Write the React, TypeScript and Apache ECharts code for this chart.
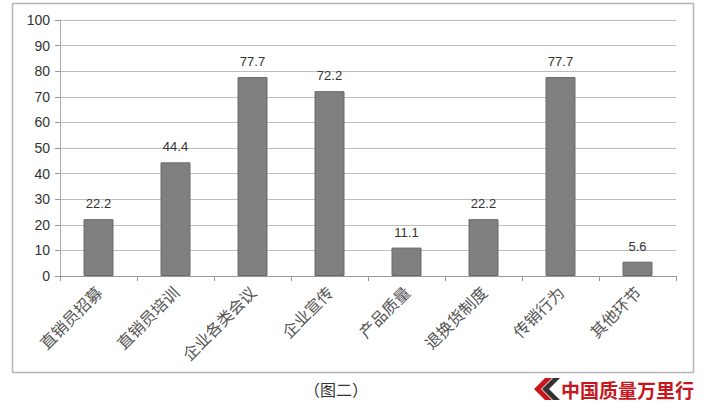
import React, { useEffect, useRef } from "react";
import * as echarts from "echarts";

const categories = ["直销员招募", "直销员培训", "企业各类会议", "企业宣传", "产品质量", "退换货制度", "传销行为", "其他环节"];
const values = [22.2, 44.4, 77.7, 72.2, 11.1, 22.2, 77.7, 5.6];
const caption = "（图二）";
const brand = "中国质量万里行";

export default function App() {
  const ref = useRef<HTMLDivElement>(null);
  useEffect(() => {
    const chart = echarts.init(ref.current!, null, { renderer: "svg" });
    chart.setOption({
      animation: false,
      backgroundColor: "#ffffff",
      grid: { left: 60, right: 33, top: 20, bottom: 143 },
      xAxis: {
        type: "category",
        data: categories,
        axisLine: { lineStyle: { color: "#999999" } },
        axisTick: { show: true, length: 5, lineStyle: { color: "#999999" } },
        axisLabel: {
          rotate: 45,
          color: "#555555",
          fontSize: 16,
          fontFamily: "Noto Sans CJK SC",
          margin: 13,
        },
      },
      yAxis: {
        type: "value",
        min: 0,
        max: 100,
        interval: 10,
        axisLine: { show: true, lineStyle: { color: "#aaaaaa" } },
        axisTick: { show: true, length: 5, lineStyle: { color: "#999999" } },
        axisLabel: { color: "#333333", fontSize: 14, fontFamily: "Liberation Sans", margin: 10 },
        splitLine: { lineStyle: { color: "#bdbdbd" } },
      },
      series: [
        {
          type: "bar",
          data: values,
          barWidth: 30,
          itemStyle: { color: "#7f7f7f", borderColor: "#6a6a6a", borderWidth: 1 },
          label: {
            show: true,
            position: "top",
            distance: 9,
            color: "#333333",
            fontSize: 13,
            fontFamily: "Liberation Sans",
            formatter: (p: any) => p.value.toFixed(1),
          },
        },
      ],
      graphic: [
        {
          type: "rect",
          shape: { x: 12.5, y: 3.5, width: 681, height: 369 },
          style: { fill: "none", stroke: "#b5b5b5", lineWidth: 1.5 },
          silent: true,
        },
        {
          type: "text",
          x: 336,
          y: 389,
          style: {
            text: caption,
            fill: "#333333",
            fontSize: 16,
            fontFamily: "Noto Sans CJK SC",
            align: "center",
            verticalAlign: "middle",
          },
        },
        {
          type: "polygon",
          shape: { points: [[545, 378], [552, 378], [541, 389], [552, 400], [545, 400], [534, 389]] },
          style: { fill: "#c8161d" },
        },
        {
          type: "polygon",
          shape: { points: [[553, 378], [560, 378], [549, 389], [560, 400], [553, 400], [542, 389]] },
          style: { fill: "#333333" },
        },
        {
          type: "text",
          x: 561,
          y: 389,
          style: {
            text: brand,
            fill: "#c8161d",
            fontSize: 19,
            fontWeight: "bold",
            fontFamily: "Noto Sans CJK SC",
            align: "left",
            verticalAlign: "middle",
          },
        },
      ],
    });
    return () => chart.dispose();
  }, []);
  return <div ref={ref} style={{ width: 709, height: 419, position: "absolute", left: 0, top: 0 }} />;
}
